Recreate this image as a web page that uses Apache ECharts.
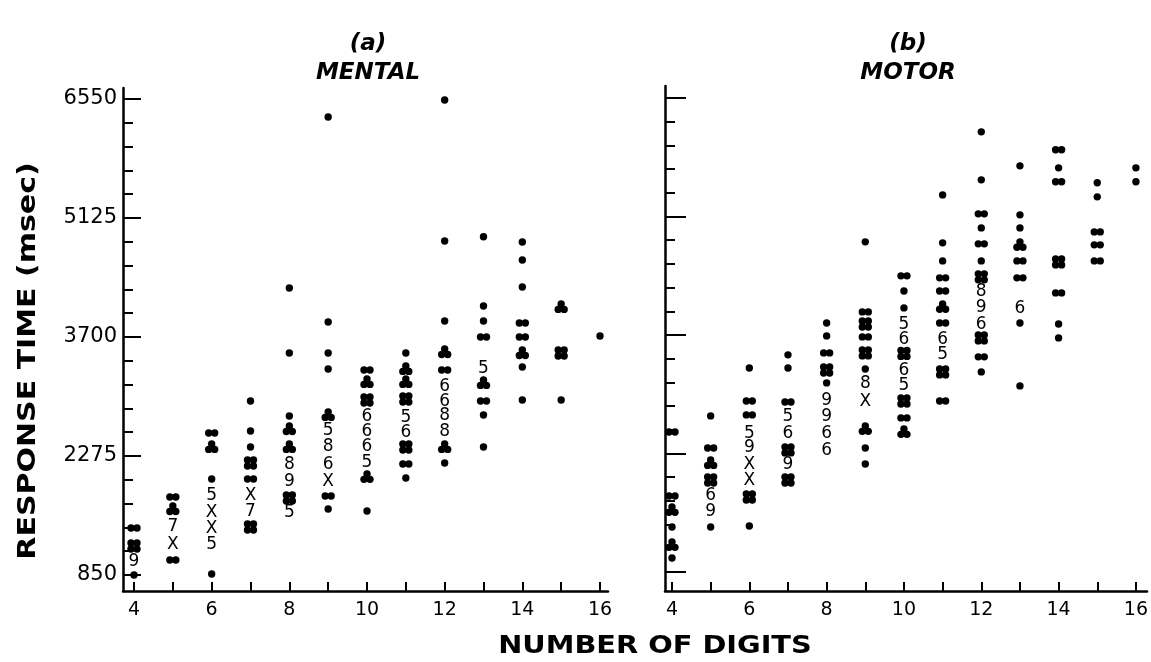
<!DOCTYPE html>
<html><head><meta charset="utf-8">
<script src="https://cdn.jsdelivr.net/npm/echarts@6/dist/echarts.min.js"></script>
<style>html,body{margin:0;padding:0;background:#fff}#c{width:1151px;height:662px}</style>
</head><body><div id="c"></div>
<script>
// tick labels
const yTickLabels = [850, 2275, 3700, 5125, 6550];
const xTickLabels = [4, 6, 8, 10, 12, 14, 16];
const panelTitles = ['(a)', '(b)'];
const panelNames = ['MENTAL', 'MOTOR'];
const yTitle = 'RESPONSE TIME (msec)';
const xTitle = 'NUMBER OF DIGITS';
// points: [number of digits, response time (msec), count of observations (10 = X)]
const mentalPoints = [
  [4,1413,2],[4,1197,4],[4,1006,9],[4,850,1],
  [5,1784,2],[5,1640,3],[5,1425,7],[5,1209,10],[5,1030,2],
  [6,2550,2],[6,2383,3],[6,1999,1],[6,1796,5],[6,1592,10],[6,1401,10],[6,1209,5],[6,862,1],
  [7,2934,1],[7,2574,1],[7,2383,1],[7,2191,4],[7,1999,2],[7,1796,10],[7,1604,7],[7,1425,4],
  [8,4287,1],[8,3508,1],[8,2754,1],[8,2598,3],[8,2383,3],[8,2167,8],[8,1964,9],[8,1772,4],[8,1592,5],
  [9,6335,1],[9,3880,1],[9,3508,1],[9,3317,1],[9,2766,3],[9,2574,5],[9,2383,8],[9,2167,6],[9,1964,10],[9,1796,2],[9,1640,1],
  [10,3305,2],[10,3161,3],[10,2946,4],[10,2742,6],[10,2562,6],[10,2383,6],[10,2191,5],[10,2024,3],[10,1616,1],
  [11,3508,1],[11,3317,3],[11,3161,3],[11,2958,4],[11,2730,5],[11,2550,6],[11,2383,4],[11,2179,2],[11,2012,1],
  [12,6538,1],[12,4850,1],[12,3892,1],[12,3520,3],[12,3305,2],[12,3101,6],[12,2922,6],[12,2754,8],[12,2562,8],[12,2383,3],[12,2191,1],
  [13,4900,1],[13,4071,1],[13,3892,1],[13,3700,2],[13,3317,5],[13,3149,3],[13,2934,2],[13,2766,1],[13,2383,1],
  [14,4838,1],[14,4622,1],[14,4299,1],[14,3868,2],[14,3700,2],[14,3508,3],[14,3341,1],[14,2946,1],
  [15,4059,3],[15,3508,4],[15,2946,1],
  [16,3712,1]
];
const motorPoints = [
  [4,2534,2],[4,1764,2],[4,1596,3],[4,1391,1],[4,1175,3],[4,1018,1],
  [5,2727,1],[5,2342,2],[5,2161,3],[5,1957,4],[5,1764,6],[5,1572,9],[5,1391,1],
  [6,3304,1],[6,2907,2],[6,2739,2],[6,2510,5],[6,2342,9],[6,2137,10],[6,1945,10],[6,1752,4],[6,1403,1],
  [7,3461,1],[7,3304,1],[7,2895,2],[7,2715,5],[7,2510,6],[7,2318,4],[7,2137,9],[7,1957,4],
  [8,3845,1],[8,3689,1],[8,3485,2],[8,3280,4],[8,3124,1],[8,2907,9],[8,2715,9],[8,2510,6],[8,2305,6],
  [9,4820,1],[9,3978,2],[9,3833,4],[9,3677,2],[9,3485,4],[9,3292,1],[9,3112,8],[9,2895,10],[9,2570,3],[9,2342,1],[9,2149,1],
  [10,4411,2],[10,4230,1],[10,4026,1],[10,3821,5],[10,3641,6],[10,3479,4],[10,3268,6],[10,3088,5],[10,2907,4],[10,2703,2],[10,2534,3],
  [11,5385,1],[11,4808,1],[11,4591,1],[11,4387,2],[11,4230,2],[11,4038,3],[11,3845,2],[11,3641,6],[11,3461,5],[11,3256,4],[11,2907,2],
  [12,6143,1],[12,5566,1],[12,5157,2],[12,4988,1],[12,4796,2],[12,4591,1],[12,4399,4],[12,4218,8],[12,4026,9],[12,3821,6],[12,3665,4],[12,3437,2],[12,3256,1],
  [13,5734,1],[13,5145,1],[13,4988,1],[13,4784,3],[13,4591,2],[13,4387,2],[13,4014,6],[13,3845,1],[13,3088,1],
  [14,5927,2],[14,5710,1],[14,5542,2],[14,4579,4],[14,4206,2],[14,3833,1],[14,3665,1],
  [15,5530,1],[15,5361,1],[15,4940,2],[15,4784,2],[15,4591,2],
  [16,5710,1],[16,5542,1]
];

const Y0 = yTickLabels[0];
const YSTEP = yTickLabels[1] - yTickLabels[0];
const YSPAN = yTickLabels[yTickLabels.length - 1] - Y0;
const XMIN = xTickLabels[0], XMAX = xTickLabels[xTickLabels.length - 1];
const FONT = '"DejaVu Sans", sans-serif';

function renderItem(params, api) {
  const n = api.value(2);
  const p = api.coord([api.value(0), api.value(1)]);
  const r = 3.7, d = 3.0;
  const dot = (dx, dy) => ({type: 'circle', shape: {cx: p[0] + dx, cy: p[1] + dy, r: r}, style: {fill: '#000'}});
  let children;
  if (n === 1) children = [dot(0, 0)];
  else if (n === 2) children = [dot(-d, 0), dot(d, 0)];
  else if (n === 3) children = [dot(0, -d), dot(-d, d * 0.8), dot(d, d * 0.8)];
  else if (n === 4) children = [dot(-d, -d), dot(d, -d), dot(-d, d), dot(d, d)];
  else children = [{type: 'text', x: p[0], y: p[1], style: {
      text: n === 10 ? 'X' : String(n), fill: '#000', font: '17px ' + FONT,
      align: 'center', verticalAlign: 'middle'}}];
  return {type: 'group', children: children};
}

// layout per panel: plot area (x 4..16, y 850..6550) and frame (axis lines)
const plotAreas = [
  {left: 134, width: 466, top: 99, height: 476},
  {left: 672, width: 466, top: 98, height: 474}
];
const frames = [
  {left: 123, width: 485, top: 88, height: 503},
  {left: 665, width: 482, top: 86, height: 505}
];
const grids = [], xAxes = [], yAxes = [], series = [];
const hiddenAxis = (gi) => ({gridIndex: gi, type: 'value', show: false, min: 0, max: 1});
[mentalPoints, motorPoints].forEach((pts, i) => {
  const pa = plotAreas[i], fr = frames[i];
  const frameBottom = fr.top + fr.height;
  // grid D: data + x ticks; extends down to the frame bottom
  grids.push({left: pa.left, width: pa.width, top: pa.top, height: frameBottom - pa.top});
  const gD = grids.length - 1;
  const yBelow = (frameBottom - (pa.top + pa.height)) * YSPAN / pa.height;
  xAxes.push({
    gridIndex: gD, type: 'value', min: XMIN, max: XMAX, interval: 1, position: 'bottom',
    axisLine: {show: false, onZero: false},
    axisTick: {show: true, inside: true, length: 9, lineStyle: {color: '#000', width: 2}},
    axisLabel: {show: true, margin: 10, color: '#000', fontFamily: FONT, fontSize: 19,
      formatter: v => xTickLabels.indexOf(v) >= 0 ? String(v) : ''},
    splitLine: {show: false}
  });
  yAxes.push({gridIndex: gD, type: 'value', show: false, min: -yBelow, max: YSPAN,
    axisLine: {onZero: false}, splitLine: {show: false}});
  series.push({
    type: 'custom', name: panelNames[i], xAxisIndex: xAxes.length - 1, yAxisIndex: yAxes.length - 1,
    renderItem: renderItem, silent: true, animation: false, clip: false,
    data: pts.map(p => [p[0], p[1] - Y0, p[2]])
  });
  // grid T: y ticks at frame left
  grids.push({left: fr.left, width: fr.width, top: pa.top, height: pa.height});
  const gT = grids.length - 1;
  xAxes.push(hiddenAxis(gT));
  yAxes.push({
    gridIndex: gT, type: 'value', min: 0, max: YSPAN, interval: YSTEP, position: 'left',
    axisLine: {show: false, onZero: false},
    axisTick: {show: true, inside: true, length: i === 0 ? 18 : 21, lineStyle: {color: '#000', width: 2}},
    minorTick: {show: true, splitNumber: 5, length: 10, lineStyle: {color: '#000', width: 2}},
    axisLabel: {show: i === 0, margin: 6, color: '#000', fontFamily: FONT, fontSize: 21,
      formatter: v => String(yTickLabels[Math.round(v / YSTEP)])},
    splitLine: {show: false}, minorSplitLine: {show: false}
  });
  // grid F: axis lines
  grids.push({left: fr.left, width: fr.width, top: fr.top, height: fr.height});
  const gF = grids.length - 1;
  xAxes.push({
    gridIndex: gF, type: 'value', min: 0, max: 1, position: 'bottom',
    axisLine: {show: true, onZero: false, lineStyle: {color: '#000', width: 2.5}},
    axisTick: {show: false}, axisLabel: {show: false}, splitLine: {show: false}
  });
  yAxes.push({
    gridIndex: gF, type: 'value', min: 0, max: 1, position: 'left',
    axisLine: {show: true, onZero: false, lineStyle: {color: '#000', width: 2.5}},
    axisTick: {show: false}, axisLabel: {show: false}, splitLine: {show: false}
  });
});

const titleCenters = [368, 908];
const graphic = [];
titleCenters.forEach((cx, i) => {
  graphic.push({type: 'text', x: cx, y: 44, style: {text: panelTitles[i], fill: '#000',
    font: 'italic bold 23px ' + FONT, align: 'center', verticalAlign: 'middle'}});
  graphic.push({type: 'text', x: cx, y: 73, style: {text: panelNames[i], fill: '#000',
    font: 'italic bold 23px ' + FONT, align: 'center', verticalAlign: 'middle'}});
});
graphic.push({type: 'text', x: 28, y: 361, rotation: Math.PI / 2, scaleX: 1.2,
  style: {text: yTitle, fill: '#000', font: 'bold 25px ' + FONT, align: 'center', verticalAlign: 'middle'}});
graphic.push({type: 'text', x: 655, y: 647, scaleX: 1.2,
  style: {text: xTitle, fill: '#000', font: 'bold 24px ' + FONT, align: 'center', verticalAlign: 'middle'}});

const chart = echarts.init(document.getElementById('c'), null, {renderer: 'canvas'});
chart.setOption({
  backgroundColor: '#fff',
  animation: false,
  grid: grids, xAxis: xAxes, yAxis: yAxes, series: series,
  graphic: graphic
});
</script></body></html>
